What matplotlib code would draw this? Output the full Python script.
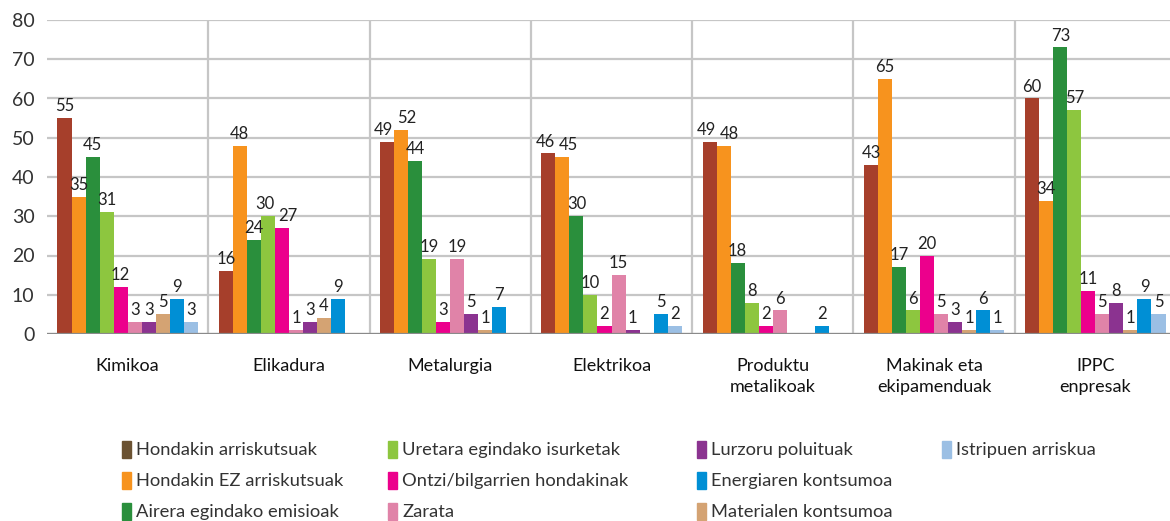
import matplotlib
matplotlib.use("Agg")
import matplotlib.pyplot as plt
import matplotlib.patches as mpatches
import numpy as np

plt.rcParams['font.family'] = ['Lato', 'DejaVu Sans']

# categories (groups along x)
categories = ["Kimikoa", "Elikadura", "Metalurgia", "Elektrikoa",
              "Produktu\nmetalikoak", "Makinak eta\nekipamenduak", "IPPC\nenpresak"]

# series, in bar order inside each group
series_names = ["Hondakin arriskutsuak", "Hondakin EZ arriskutsuak", "Airera egindako emisioak",
                "Uretara egindako isurketak", "Ontzi/bilgarrien hondakinak", "Zarata",
                "Lurzoru poluituak", "Materialen kontsumoa", "Energiaren kontsumoa",
                "Istripuen arriskua"]
series_colors = ["#a63f2b", "#f7931e", "#2a8f3c", "#8dc63f", "#ec008c",
                 "#e083a8", "#8b3390", "#d4a373", "#008fd5", "#9bbfe4"]

hondakin_arr = [55, 16, 49, 46, 49, 43, 60]
hondakin_ez = [35, 48, 52, 45, 48, 65, 34]
airera = [45, 24, 44, 30, 18, 17, 73]
uretara = [31, 30, 19, 10, 8, 6, 57]
ontzi = [12, 27, 3, 2, 2, 20, 11]
zarata = [3, 1, 19, 15, 6, 5, 5]
lurzoru = [3, 3, 5, 1, 0, 3, 8]
materialen = [5, 4, 1, 0, 0, 1, 1]
energia = [9, 9, 7, 5, 2, 6, 9]
istripuen = [3, 0, 0, 2, 0, 1, 5]
values = [hondakin_arr, hondakin_ez, airera, uretara, ontzi, zarata,
          lurzoru, materialen, energia, istripuen]

# legend order / colours as shown in the picture (column by column)
legend_cols = [
    [("Hondakin arriskutsuak", "#6b5232"), ("Hondakin EZ arriskutsuak", "#f7931e"),
     ("Airera egindako emisioak", "#2a8f3c")],
    [("Uretara egindako isurketak", "#8dc63f"), ("Ontzi/bilgarrien hondakinak", "#ec008c"),
     ("Zarata", "#e083a8")],
    [("Lurzoru poluituak", "#8b3390"), ("Energiaren kontsumoa", "#008fd5"),
     ("Materialen kontsumoa", "#d4a373")],
    [("Istripuen arriskua", "#9bbfe4")],
]

W, H = 1170, 521
fig = plt.figure(figsize=(W / 100, H / 100), dpi=100)
ax = fig.add_axes([47 / W, (H - 334) / H, (1176 - 47) / W, (334 - 20) / H])

x = np.arange(len(categories))
bw = 0.087
for j, (vals, col) in enumerate(zip(values, series_colors)):
    ax.bar(x + (j - 4.5) * bw, vals, width=bw, color=col, zorder=3)

# value labels; nudge two-digit neighbours with almost equal heights apart
for g in range(len(categories)):
    prev = None
    for j in range(len(values)):
        v = values[j][g]
        if v <= 0:
            continue
        dx = 0.0
        if (prev is not None and prev[0] == j - 1 and abs(prev[1] - v) < 4
                and v >= 10 and prev[1] >= 10):
            dx = 0.035
            prev[2].set_x(prev[2].get_position()[0] - 0.02)
        t = ax.text(x[g] + (j - 4.5) * bw + dx, v + 1.0, str(v), ha='center', va='bottom',
                    fontsize=12, color="#222222", zorder=6)
        prev = (j, v, t)

ax.set_xlim(-0.5, len(categories) - 0.5)
ax.set_ylim(0, 80)
ax.set_yticks(range(0, 81, 10))
ax.grid(axis='y', color="#c6c6c6", linewidth=1.6, zorder=0)
for s in x[:-1] + 0.5:
    ax.axvline(s, color="#c6c6c6", linewidth=1.6, zorder=0)
ax.axhline(0, color="#8a8a8a", linewidth=1.6, zorder=5)
for sp in ax.spines.values():
    sp.set_visible(False)

ax.set_xticks(x)
ax.set_xticklabels(categories, fontsize=13, color="#111111", linespacing=1.45)
ax.tick_params(axis='x', length=0, pad=17)
ax.tick_params(axis='y', length=0, pad=9, labelsize=14, labelcolor="#333333")

# legend drawn by hand to keep the column layout
col_x = [122, 388, 697, 942]
row_y = [450, 481, 512]
for cx, entries in zip(col_x, legend_cols):
    for ry, (name, col) in zip(row_y, entries):
        fig.patches.append(mpatches.Rectangle((cx / W, (H - ry - 8) / H), 9 / W, 17 / H,
                                              color=col, transform=fig.transFigure))
        fig.text((cx + 14) / W, (H - ry) / H, name, ha='left', va='center', fontsize=13.2,
                 color="#333333")

fig.savefig("out.png", dpi=100)
